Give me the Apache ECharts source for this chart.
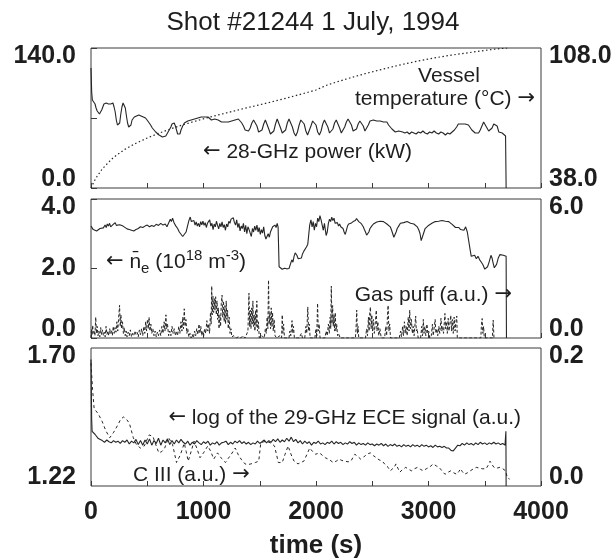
<!DOCTYPE html>
<html><head><meta charset="utf-8">
<script src="https://cdn.jsdelivr.net/npm/echarts@6/dist/echarts.min.js"></script>
<style>html,body{margin:0;padding:0;background:#fff}#c{width:615px;height:560px}</style>
</head><body><div id="c"></div>
<script>
// ---------- text ----------
const titleText = 'Shot #21244 1 July, 1994';
const xAxisName = 'time (s)';
// ---------- axis ranges / tick labels ----------
const timeRange = [0, 4000];
const timeTickStep = 500;
const timeLabelStep = 1000;
const powerRange = [0, 140];     // panel 1 left (kW)
const tempRange = [38, 108];     // panel 1 right (deg C)
const neRange = [0, 4];          // panel 2 left
const gasRange = [0, 6];         // panel 2 right
const eceRange = [1.22, 1.70];   // panel 3 left
const c3Range = [0, 0.2];        // panel 3 right

// ---------- series: [time (s), value] ----------
const power28GHz = [[0,120],[6,96],[12,88],[20,90],[28,86],[36,84],[45,80],[55,77],[65,75],[75,74],[85,75],[95,78],[105,81],[115,84],[125,83],[135,85],[145,83],[155,84],[165,82],[175,84],[185,83],[195,85],[205,81],[215,76],[225,68],[235,63],[245,61],[255,65],[265,74],[275,81],[285,85],[295,84],[305,80],[315,72],[325,65],[335,61],[345,60],[355,63],[365,68],[375,70],[385,71],[395,70],[405,72],[415,71],[425,73],[435,71],[445,72],[455,70],[465,71],[475,69],[485,70],[495,68],[505,67],[515,66],[530,63],[545,60],[560,58],[575,56],[590,55],[605,53],[620,54],[635,51],[650,53],[665,52],[680,55],[695,57],[710,61],[720,64],[730,66],[740,65],[750,62],[760,58],[770,54],[780,52],[790,54],[800,58],[815,62],[830,65],[845,66],[860,67],[875,66],[890,68],[905,67],[920,69],[935,68],[950,70],[965,69],[980,71],[995,70],[1010,71],[1025,69],[1040,71],[1055,70],[1070,68],[1085,70],[1100,69],[1115,70],[1130,68],[1145,70],[1160,66],[1175,65],[1190,66],[1205,64],[1220,66],[1235,64],[1250,67],[1265,66],[1280,68],[1295,67],[1310,69],[1325,68],[1340,65],[1355,62],[1370,58],[1385,56],[1400,57],[1415,60],[1430,65],[1445,68],[1460,67],[1475,62],[1490,56],[1505,54],[1520,58],[1535,64],[1550,68],[1565,66],[1580,59],[1595,54],[1610,52],[1625,57],[1640,64],[1655,69],[1670,67],[1685,60],[1700,55],[1715,53],[1730,58],[1745,65],[1760,69],[1775,68],[1790,61],[1805,55],[1820,52],[1835,56],[1850,63],[1865,68],[1880,69],[1895,64],[1910,57],[1925,53],[1940,55],[1955,62],[1970,67],[1985,68],[2000,63],[2015,56],[2030,53],[2045,57],[2060,64],[2075,68],[2090,67],[2105,61],[2120,55],[2135,54],[2150,59],[2165,65],[2180,68],[2195,66],[2210,60],[2225,55],[2240,56],[2255,61],[2270,66],[2285,69],[2300,67],[2315,63],[2330,57],[2345,55],[2360,59],[2375,64],[2390,67],[2405,66],[2420,62],[2435,57],[2450,58],[2465,63],[2480,67],[2495,69],[2510,68],[2525,69],[2540,67],[2555,66],[2570,67],[2585,65],[2600,66],[2615,64],[2630,66],[2645,63],[2660,61],[2675,59],[2690,57],[2705,56],[2720,58],[2735,57],[2750,55],[2770,56],[2790,55],[2810,56],[2830,54],[2850,56],[2870,55],[2890,54],[2910,56],[2930,55],[2950,57],[2970,55],[2990,54],[3010,56],[3030,55],[3050,57],[3070,55],[3090,54],[3110,56],[3130,55],[3150,53],[3170,55],[3190,54],[3210,56],[3230,58],[3250,61],[3265,64],[3280,65],[3295,64],[3310,66],[3325,64],[3340,65],[3355,63],[3370,62],[3385,58],[3400,56],[3415,55],[3430,57],[3445,55],[3460,58],[3475,62],[3490,66],[3505,65],[3520,60],[3535,57],[3550,56],[3565,60],[3580,64],[3595,66],[3610,62],[3625,56],[3640,54],[3655,55],[3670,53],[3685,52],[3690,0]];

const vesselTemp = [[0,38],[25,41],[50,43.5],[100,47.5],[150,50.5],[200,53.3],[300,57.3],[400,60.4],[500,63],[600,65.3],[700,67.4],[800,69.3],[900,71],[1000,72.6],[1100,74.1],[1200,75.5],[1300,76.9],[1400,78.3],[1500,79.6],[1600,81],[1700,82.4],[1800,83.9],[1900,85.4],[2000,87],[2100,89.5],[2200,91.3],[2300,93],[2400,94.6],[2500,96.1],[2600,97.5],[2700,98.9],[2800,100.2],[2900,101.4],[3000,102.5],[3100,103.5],[3200,104.4],[3300,105.2],[3400,106],[3500,106.8],[3600,107.5],[3700,108]];

const neBar = [[0,3.22],[10,3.18],[20,3.12],[35,3.10],[50,3.08],[65,3.12],[80,3.15],[95,3.20],[110,3.17],[125,3.25],[135,3.18],[145,3.28],[155,3.22],[165,3.30],[175,3.20],[185,3.16],[195,3.26],[205,3.22],[215,3.32],[225,3.24],[240,3.20],[255,3.26],[270,3.30],[285,3.22],[300,3.18],[320,3.14],[340,3.12],[360,3.10],[380,3.08],[400,3.12],[420,3.15],[440,3.20],[460,3.18],[480,3.22],[500,3.25],[520,3.20],[540,3.24],[560,3.21],[580,3.27],[600,3.24],[620,3.30],[640,3.25],[660,3.28],[675,3.20],[690,3.25],[705,3.42],[715,3.35],[725,3.45],[740,3.30],[755,3.22],[770,3.15],[785,3.05],[800,3.00],[815,2.92],[830,2.88],[845,3.05],[860,3.25],[872,3.40],[882,3.48],[892,3.35],[905,3.30],[915,3.38],[925,3.25],[935,3.34],[945,3.22],[955,3.30],[965,3.20],[975,3.35],[985,3.26],[995,3.36],[1005,3.24],[1015,3.32],[1025,3.18],[1035,3.30],[1045,3.26],[1055,3.40],[1065,3.22],[1075,3.30],[1085,3.12],[1095,3.28],[1105,3.20],[1115,3.36],[1125,3.24],[1135,3.14],[1145,3.30],[1155,3.20],[1165,3.34],[1175,3.18],[1185,3.26],[1195,3.10],[1205,3.28],[1215,3.20],[1225,3.36],[1235,3.30],[1245,3.42],[1255,3.38],[1265,3.46],[1275,3.32],[1285,3.25],[1295,3.40],[1305,3.18],[1315,3.30],[1325,3.08],[1335,3.22],[1345,3.15],[1355,3.30],[1365,3.05],[1375,3.24],[1385,3.00],[1395,3.20],[1405,3.12],[1415,3.02],[1425,2.92],[1435,3.15],[1445,3.05],[1455,3.22],[1465,3.10],[1475,3.25],[1485,3.05],[1495,3.18],[1505,2.98],[1515,3.12],[1525,3.02],[1535,3.20],[1545,2.95],[1555,2.85],[1565,2.82],[1575,3.00],[1585,2.90],[1595,3.05],[1605,3.10],[1615,3.20],[1625,3.15],[1635,3.25],[1645,3.18],[1655,3.30],[1663,3.20],[1668,3.15],[1672,2.05],[1680,2.00],[1700,1.98],[1720,2.01],[1740,1.99],[1760,2.00],[1772,2.05],[1785,2.25],[1795,2.18],[1805,2.35],[1815,2.45],[1822,2.50],[1830,2.38],[1842,2.28],[1855,2.32],[1870,2.30],[1880,2.42],[1892,2.50],[1905,2.55],[1915,2.62],[1927,2.70],[1938,2.72],[1944,3.25],[1955,3.40],[1965,3.20],[1975,3.35],[1985,3.10],[1995,3.30],[2005,3.20],[2015,3.45],[2025,3.35],[2035,3.52],[2045,3.40],[2055,3.25],[2065,3.10],[2075,3.30],[2090,2.95],[2100,3.05],[2110,3.30],[2120,3.42],[2130,3.35],[2140,3.48],[2150,3.38],[2160,3.45],[2170,3.30],[2180,3.25],[2190,3.32],[2200,3.22],[2210,3.28],[2220,3.20],[2230,3.25],[2240,3.15],[2250,3.05],[2260,2.98],[2270,3.10],[2280,3.22],[2290,3.28],[2300,3.24],[2310,3.30],[2320,3.28],[2330,3.35],[2340,3.30],[2350,3.38],[2360,3.44],[2370,3.40],[2380,3.35],[2390,3.38],[2400,3.30],[2410,3.25],[2420,3.20],[2430,3.12],[2440,3.05],[2450,2.96],[2460,2.92],[2470,3.05],[2480,3.15],[2495,3.22],[2510,3.28],[2525,3.30],[2540,3.34],[2555,3.31],[2570,3.36],[2585,3.33],[2600,3.35],[2615,3.30],[2630,3.28],[2645,3.25],[2660,3.20],[2672,3.10],[2682,3.00],[2692,2.90],[2702,2.95],[2712,3.05],[2722,3.15],[2735,3.22],[2750,3.30],[2765,3.28],[2780,3.32],[2795,3.30],[2810,3.35],[2825,3.32],[2840,3.30],[2855,3.33],[2870,3.28],[2885,3.26],[2900,3.20],[2915,3.10],[2925,3.00],[2935,2.80],[2945,2.85],[2955,3.00],[2970,3.15],[2985,3.20],[3000,3.24],[3015,3.28],[3030,3.30],[3045,3.33],[3060,3.35],[3075,3.38],[3090,3.36],[3105,3.40],[3120,3.38],[3135,3.40],[3150,3.36],[3165,3.33],[3180,3.35],[3195,3.30],[3210,3.27],[3225,3.22],[3240,3.18],[3255,3.15],[3270,3.18],[3285,3.12],[3300,3.15],[3315,3.10],[3330,3.20],[3345,3.05],[3360,3.08],[3372,2.50],[3380,2.35],[3395,2.30],[3410,2.38],[3425,2.28],[3440,2.35],[3455,2.25],[3470,2.18],[3485,2.10],[3500,1.98],[3512,1.95],[3525,2.05],[3540,2.20],[3555,2.38],[3565,2.30],[3575,2.15],[3585,2.02],[3595,2.00],[3605,2.12],[3620,2.30],[3635,2.40],[3650,2.35],[3665,2.38],[3680,2.34],[3690,2.35],[3693,0]];

const gasPuff = [[0,0],[5,0.4],[10,0.15],[15,0.55],[20,0.2],[27,0.3],[35,0.1],[42,0.9],[48,0.2],[55,0.5],[62,0.1],[70,0.3],[78,0.05],[86,0.45],[94,0.15],[102,0.35],[110,0.1],[118,0.25],[126,0.05],[134,0.5],[142,0.15],[150,0.3],[158,0.1],[166,0.4],[174,0.2],[182,0.35],[190,0.1],[198,0.5],[206,0.2],[214,0.45],[222,0.25],[230,0.7],[238,0.3],[246,0.9],[254,1.41],[260,0.5],[266,1.0],[272,0.4],[280,0.7],[288,0.2],[296,0.45],[304,0.1],[312,0.3],[320,0.05],[330,0.25],[340,0.1],[350,0.35],[360,0.05],[370,0.2],[380,0.1],[390,0.3],[400,0.15],[410,0.25],[420,0.05],[430,0.35],[440,0.15],[450,0.4],[460,0.1],[470,0.5],[478,0.2],[486,0.7],[494,0.3],[502,0.8],[510,0.4],[516,0.9],[524,0.3],[532,0.6],[540,0.2],[550,0.4],[560,0.1],[570,0.3],[580,0.05],[590,0.25],[600,0.1],[610,0.35],[620,0.1],[630,0.5],[640,0.2],[650,0.7],[658,0.3],[666,1.0],[672,0.4],[680,0.6],[690,0.1],[700,0.3],[710,0.1],[720,0.5],[730,0.2],[740,0.4],[750,0.1],[760,0.3],[770,0.1],[780,0.5],[790,0.2],[800,0.7],[808,0.3],[816,0.9],[822,0.4],[829,1.26],[836,0.5],[844,0.8],[852,0.2],[860,0.4],[870,0.05],[880,0.2],[890,0],[900,0.15],[910,0],[920,0.3],[930,0.1],[940,0.4],[950,0.15],[960,0.6],[968,0.2],[976,0.5],[984,0.1],[992,0.3],[1000,0.05],[1010,0.4],[1020,0.2],[1030,0.75],[1038,0.3],[1046,0.6],[1054,0.2],[1062,1.1],[1068,0.6],[1073,2.24],[1078,1.0],[1084,1.8],[1090,1.1],[1096,1.7],[1102,1.2],[1108,1.78],[1114,1.0],[1120,1.6],[1126,0.8],[1132,1.3],[1138,0.4],[1146,1.0],[1152,0.5],[1158,1.5],[1165,1.85],[1171,0.9],[1178,1.6],[1184,0.7],[1190,1.4],[1196,0.6],[1202,1.6],[1208,0.8],[1214,1.2],[1220,0.4],[1228,0.9],[1236,0.2],[1244,0.4],[1252,0.05],[1270,0.1],[1290,0],[1310,0.05],[1330,0],[1350,0.1],[1370,0],[1385,0.05],[1395,0.3],[1404,1.93],[1410,0.5],[1416,1.2],[1422,0.4],[1428,1.3],[1434,0.6],[1439,1.6],[1445,0.5],[1451,1.0],[1457,0.3],[1463,1.2],[1469,0.5],[1474,1.6],[1480,0.3],[1488,0.7],[1496,0],[1520,0.1],[1540,0],[1550,0.4],[1558,0.2],[1566,0.9],[1572,0.4],[1578,2.5],[1584,0.6],[1590,1.1],[1596,0.4],[1602,1.3],[1608,0.5],[1614,1.1],[1620,0.3],[1628,0.8],[1636,0.1],[1650,0],[1680,0.1],[1694,0],[1700,1.0],[1706,0.2],[1712,0.6],[1720,0],[1760,0],[1768,0.3],[1776,0.1],[1787,0.75],[1794,0.2],[1800,0.5],[1808,0],[1850,0],[1870,0.2],[1880,0],[1900,0],[1910,0.5],[1918,0.2],[1927,1.34],[1934,0.3],[1940,0.6],[1948,0],[1990,0],[2000,0.4],[2007,0.1],[2014,1.5],[2020,0.3],[2028,0.6],[2036,0],[2080,0],[2090,0.3],[2100,0.1],[2110,0.6],[2118,0.2],[2126,0.9],[2131,0.4],[2136,2.24],[2142,0.6],[2148,1.4],[2154,0.5],[2160,1.0],[2166,0.3],[2171,1.1],[2177,0.3],[2184,0.6],[2192,0.1],[2200,0.2],[2215,0],[2350,0],[2356,0.4],[2362,1.2],[2368,0.2],[2374,0.5],[2380,0],[2440,0],[2450,0.4],[2458,0.1],[2466,0.9],[2472,0.3],[2478,1.1],[2484,1.34],[2490,0.4],[2496,1.0],[2502,0.3],[2510,0.8],[2518,0.2],[2526,0.6],[2536,1.2],[2542,0.3],[2550,0.7],[2558,0.1],[2568,0.4],[2580,0],[2610,0],[2620,0.5],[2628,0.1],[2635,0.9],[2641,1.41],[2648,0.3],[2655,0.6],[2662,0],[2740,0],[2752,0.3],[2760,0.05],[2770,0.5],[2778,0.1],[2786,0.7],[2794,0.2],[2802,0.5],[2810,0.1],[2820,0.9],[2827,0.3],[2833,1.2],[2840,0.4],[2848,0.8],[2856,0.2],[2864,0.5],[2872,0.1],[2880,0.6],[2886,0.95],[2892,0.3],[2900,0.4],[2908,0],[2930,0],[2940,0.5],[2947,0.1],[2954,0.8],[2960,0.2],[2968,0.5],[2976,0.1],[2986,0.6],[2994,0.2],[3002,0.3],[3010,0],[3025,0.1],[3035,0.6],[3042,0.1],[3050,0.4],[3059,0.8],[3066,0.2],[3074,0.4],[3082,0.1],[3092,0.5],[3100,0.2],[3111,0.85],[3118,0.3],[3126,0.5],[3134,0.2],[3146,1.06],[3152,0.4],[3160,0.7],[3167,0.2],[3175,0.85],[3182,0.3],[3190,0.6],[3198,0.98],[3205,0.3],[3212,0.8],[3220,0.2],[3228,0.9],[3236,0.3],[3244,0.7],[3251,0.95],[3256,0],[3465,0],[3471,0.6],[3477,0.84],[3483,0.2],[3490,0.5],[3496,0],[3568,0],[3575,0.77],[3582,0]];

const ece29GHz = [[0,1.66],[3,1.55],[6,1.45],[10,1.41],[20,1.405],[35,1.40],[50,1.395],[65,1.385],[80,1.38],[100,1.378],[120,1.372],[140,1.38],[160,1.374],[180,1.37],[200,1.378],[220,1.372],[240,1.376],[260,1.368],[280,1.378],[300,1.372],[320,1.38],[340,1.366],[360,1.376],[380,1.37],[400,1.382],[420,1.364],[440,1.378],[460,1.362],[480,1.38],[500,1.366],[520,1.384],[540,1.362],[560,1.378],[580,1.368],[600,1.386],[620,1.362],[640,1.38],[660,1.37],[680,1.384],[700,1.364],[720,1.378],[740,1.366],[760,1.38],[780,1.37],[800,1.382],[820,1.372],[840,1.366],[860,1.376],[880,1.362],[900,1.372],[920,1.366],[940,1.378],[960,1.37],[980,1.364],[1000,1.374],[1020,1.368],[1040,1.376],[1060,1.362],[1080,1.37],[1100,1.366],[1120,1.374],[1140,1.362],[1160,1.37],[1180,1.372],[1200,1.376],[1220,1.364],[1240,1.372],[1260,1.366],[1280,1.376],[1300,1.37],[1320,1.378],[1340,1.368],[1360,1.374],[1380,1.366],[1400,1.372],[1420,1.364],[1440,1.37],[1460,1.366],[1480,1.376],[1500,1.368],[1520,1.374],[1540,1.38],[1560,1.37],[1580,1.378],[1600,1.372],[1620,1.382],[1640,1.374],[1660,1.384],[1680,1.372],[1700,1.38],[1720,1.374],[1740,1.386],[1760,1.376],[1780,1.39],[1800,1.374],[1820,1.382],[1840,1.37],[1860,1.378],[1880,1.366],[1900,1.376],[1920,1.368],[1940,1.374],[1960,1.362],[1980,1.372],[2000,1.368],[2020,1.376],[2040,1.366],[2060,1.37],[2080,1.364],[2100,1.372],[2120,1.368],[2140,1.376],[2160,1.366],[2180,1.374],[2200,1.368],[2220,1.372],[2240,1.364],[2260,1.37],[2280,1.366],[2300,1.374],[2320,1.368],[2340,1.372],[2360,1.362],[2380,1.37],[2400,1.364],[2420,1.368],[2440,1.362],[2460,1.37],[2480,1.364],[2500,1.366],[2520,1.36],[2540,1.366],[2560,1.362],[2580,1.368],[2600,1.36],[2620,1.366],[2640,1.358],[2660,1.364],[2680,1.36],[2700,1.366],[2720,1.358],[2740,1.362],[2760,1.356],[2780,1.364],[2800,1.358],[2820,1.362],[2840,1.356],[2860,1.364],[2880,1.358],[2900,1.362],[2920,1.356],[2940,1.364],[2960,1.358],[2980,1.362],[3000,1.356],[3020,1.36],[3040,1.354],[3060,1.362],[3080,1.356],[3100,1.358],[3120,1.354],[3140,1.358],[3160,1.352],[3180,1.352],[3200,1.344],[3220,1.342],[3240,1.352],[3260,1.362],[3280,1.36],[3300,1.368],[3320,1.362],[3340,1.37],[3360,1.364],[3380,1.368],[3400,1.362],[3420,1.37],[3440,1.364],[3460,1.372],[3480,1.366],[3500,1.37],[3520,1.364],[3540,1.37],[3560,1.366],[3580,1.372],[3600,1.366],[3620,1.37],[3640,1.364],[3660,1.368],[3680,1.362],[3688,1.41],[3690,1.22]];

const c3Signal = [[0,0.178],[14,0.14],[28,0.112],[45,0.11],[63,0.105],[98,0.094],[132,0.08],[167,0.07],[202,0.078],[237,0.088],[265,0.097],[289,0.1],[314,0.097],[341,0.091],[376,0.07],[404,0.06],[439,0.055],[474,0.058],[516,0.074],[550,0.072],[580,0.058],[603,0.048],[630,0.05],[655,0.055],[690,0.07],[725,0.06],[760,0.034],[794,0.045],[829,0.062],[846,0.05],[864,0.036],[890,0.05],[916,0.065],[940,0.055],[969,0.041],[1000,0.048],[1038,0.058],[1065,0.05],[1091,0.039],[1110,0.044],[1125,0.048],[1160,0.04],[1195,0.034],[1220,0.04],[1247,0.046],[1282,0.055],[1310,0.045],[1334,0.039],[1369,0.032],[1395,0.031],[1421,0.032],[1460,0.034],[1491,0.036],[1509,0.062],[1535,0.064],[1561,0.065],[1600,0.062],[1631,0.058],[1650,0.045],[1665,0.034],[1700,0.034],[1725,0.046],[1752,0.058],[1780,0.045],[1805,0.036],[1840,0.032],[1865,0.034],[1892,0.036],[1920,0.046],[1944,0.055],[1970,0.05],[1996,0.046],[2031,0.048],[2060,0.044],[2083,0.041],[2120,0.038],[2153,0.034],[2180,0.036],[2205,0.039],[2230,0.037],[2258,0.036],[2285,0.035],[2310,0.036],[2345,0.046],[2370,0.043],[2397,0.039],[2425,0.042],[2449,0.046],[2484,0.048],[2510,0.044],[2536,0.041],[2560,0.038],[2589,0.036],[2615,0.031],[2641,0.027],[2660,0.022],[2676,0.02],[2695,0.027],[2711,0.032],[2730,0.025],[2745,0.02],[2770,0.024],[2798,0.027],[2825,0.024],[2850,0.022],[2875,0.025],[2902,0.027],[2930,0.024],[2954,0.022],[2980,0.025],[3007,0.027],[3042,0.032],[3070,0.029],[3094,0.027],[3120,0.022],[3146,0.017],[3175,0.02],[3198,0.022],[3225,0.019],[3251,0.017],[3270,0.021],[3285,0.025],[3300,0.021],[3320,0.017],[3345,0.019],[3372,0.022],[3400,0.025],[3425,0.027],[3450,0.026],[3477,0.025],[3512,0.025],[3530,0.03],[3547,0.036],[3565,0.031],[3582,0.027],[3610,0.026],[3634,0.027],[3660,0.025],[3686,0.022],[3700,0.012],[3721,0.01]];

// ---------- styling ----------
const FONT = "'Liberation Sans', Arial, Helvetica, sans-serif";
const ARROW_FONT = "'DejaVu Sans', sans-serif";
const INK = '#1e1e1e';
const LINE = '#262626';
const TICK_FS = 25;
const NOTE_FS = 21;

const grids = [
  { left: 91, right: 74, top: 48, height: 140 },
  { left: 91, right: 74, top: 199, height: 139 },
  { left: 91, right: 74, top: 348, height: 141 }
].map(g => Object.assign(g, { show: true, borderColor: '#3a3a3a', borderWidth: 1, backgroundColor: 'transparent' }));

function xAx(i, showLabels) {
  return {
    type: 'value', gridIndex: i, min: timeRange[0], max: timeRange[1], interval: timeTickStep,
    axisLine: { show: false }, splitLine: { show: false },
    axisTick: { show: true, inside: true, length: 5, lineStyle: { color: '#3a3a3a' } },
    axisLabel: {
      show: showLabels, margin: 14, fontSize: TICK_FS, fontWeight: 'bold', fontFamily: FONT, color: INK,
      formatter: v => (v % timeLabelStep === 0 ? String(v) : '')
    },
    name: showLabels ? xAxisName : '', nameLocation: 'middle', nameGap: 47,
    nameTextStyle: { fontSize: 26, fontWeight: 'bold', fontFamily: FONT, color: INK }
  };
}

function yAx(i, pos, range, interval, digits, showTicks, showMid) {
  const [lo, hi] = range;
  const eps = (hi - lo) * 1e-6;
  const base = { fontSize: TICK_FS, fontWeight: 'bold', fontFamily: FONT, color: INK };
  return {
    type: 'value', gridIndex: i, position: pos, min: lo, max: hi, interval: interval,
    axisLine: { show: false }, splitLine: { show: false },
    axisTick: { show: showTicks, inside: true, length: 6, lineStyle: { color: '#3a3a3a' } },
    axisLabel: Object.assign({
      show: true, showMinLabel: true, showMaxLabel: true,
      margin: pos === 'left' ? 15 : 8,
      formatter: v => {
        if (Math.abs(v - hi) < eps) return '{hi|' + hi.toFixed(digits) + '}';
        if (Math.abs(v - lo) < eps) return '{lo|' + lo.toFixed(digits) + '}';
        if (showMid) return '{mid|' + v.toFixed(digits) + '}';
        return '';
      },
      rich: {
        hi: Object.assign({ padding: [17, 0, 0, 0] }, base),
        lo: Object.assign({ padding: [0, 0, 17, 0] }, base),
        mid: Object.assign({}, base)
      }
    }, base)
  };
}

function lineSeries(data, xi, yi, type, width) {
  return {
    type: 'line', data: data, xAxisIndex: xi, yAxisIndex: yi,
    showSymbol: false, symbol: 'none', animation: false, clip: true,
    lineStyle: { color: LINE, width: width, type: type }
  };
}

const noteRich = {
  t: { fontSize: NOTE_FS, fontFamily: FONT, fill: INK },
  arr: { fontSize: NOTE_FS, fontFamily: ARROW_FONT, fill: INK }
};
function note(text, x, y, align) {
  return {
    type: 'text', x: x, y: y, silent: true,
    style: { text: text, fill: INK, font: NOTE_FS + 'px ' + FONT, rich: noteRich,
      align: align, verticalAlign: 'middle', textAlign: align, textVerticalAlign: 'middle' }
  };
}

const chart = echarts.init(document.getElementById('c'), null, { renderer: 'canvas' });
chart.setOption({
  backgroundColor: '#ffffff',
  animation: false,
  grid: grids,
  xAxis: [xAx(0, false), xAx(1, false), xAx(2, true)],
  yAxis: [
    yAx(0, 'left', powerRange, 70, 1, true, false),
    yAx(0, 'right', tempRange, 70, 1, false, false),
    yAx(1, 'left', neRange, 2, 1, true, true),
    yAx(1, 'right', gasRange, 6, 1, false, false),
    yAx(2, 'left', eceRange, 0.48, 2, false, false),
    yAx(2, 'right', c3Range, 0.2, 1, false, false)
  ],
  series: [
    lineSeries(vesselTemp, 0, 1, [1.5, 2.5], 1.2),
    lineSeries(power28GHz, 0, 0, 'solid', 1.1),
    lineSeries(gasPuff, 1, 3, [3, 2], 1),
    lineSeries(neBar, 1, 2, 'solid', 1.1),
    lineSeries(c3Signal, 2, 5, [3, 3], 1),
    lineSeries(ece29GHz, 2, 4, 'solid', 1.1)
  ],
  graphic: [
    { type: 'text', x: 313, y: 23, silent: true,
      style: { text: titleText, fill: INK, font: '26px ' + FONT, align: 'center', verticalAlign: 'middle', textAlign: 'center', textVerticalAlign: 'middle' } },
    note('{t|Vessel}', 449, 76, 'center'),
    note('{t|temperature (°C) }{arr|\u2192}', 535, 99, 'right'),
    note('{arr|\u2190}{t| 28-GHz power (kW)}', 203, 152, 'left'),
    { type: 'text', x: 106, y: 262, silent: true,
      style: {
        text: '{arr|\u2190}{a| n\u0304}{s|e}{a| (10}{p|18}{a| m}{p|-3}{a|)}',
        fill: INK, font: NOTE_FS + 'px ' + FONT, align: 'left', verticalAlign: 'middle', textAlign: 'left', textVerticalAlign: 'middle',
        rich: {
          arr: { fontSize: NOTE_FS, fontFamily: ARROW_FONT, fill: INK, lineHeight: 28, verticalAlign: 'middle' },
          a: { fontSize: NOTE_FS, fontFamily: FONT, fill: INK, lineHeight: 28, verticalAlign: 'middle' },
          s: { fontSize: 15, fontFamily: FONT, fill: INK, lineHeight: 14, verticalAlign: 'bottom' },
          p: { fontSize: 15, fontFamily: FONT, fill: INK, lineHeight: 16, verticalAlign: 'top' }
        }
      } },
    note('{t|Gas puff (a.u.) }{arr|\u2192}', 512, 295, 'right'),
    note('{arr|\u2190}{t| log of the 29-GHz ECE signal (a.u.)}', 521, 418, 'right'),
    note('{t|C III (a.u.) }{arr|\u2192}', 133, 475, 'left')
  ]
});
</script>
</body></html>
